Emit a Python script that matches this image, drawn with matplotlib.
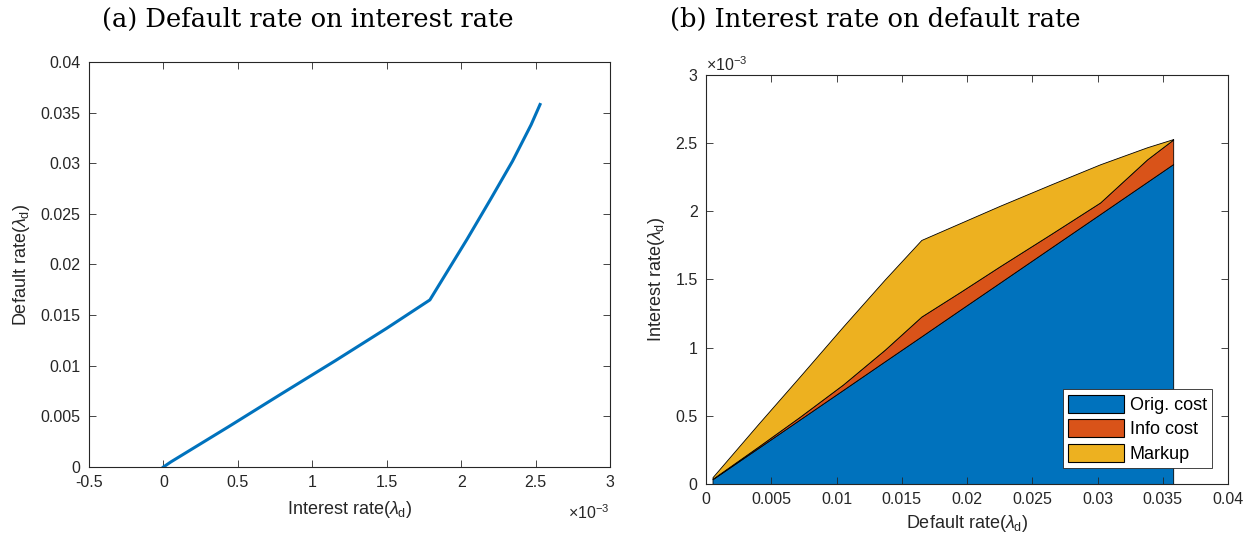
import matplotlib
matplotlib.use("Agg")
import matplotlib.pyplot as plt
from matplotlib.patches import Patch

# ---------------- data ----------------
default_rate = [0.0005, 0.004, 0.0072, 0.0105, 0.0137, 0.0165, 0.0195,
                0.0225, 0.0265, 0.0302, 0.0338, 0.0358]
orig_cost = [0.035e-3, 0.264e-3, 0.474e-3, 0.690e-3, 0.900e-3, 1.083e-3,
             1.280e-3, 1.476e-3, 1.738e-3, 1.980e-3, 2.216e-3, 2.347e-3]
info_cost = [0.003e-3, 0.010e-3, 0.020e-3, 0.040e-3, 0.085e-3, 0.145e-3,
             0.130e-3, 0.120e-3, 0.100e-3, 0.085e-3, 0.165e-3, 0.180e-3]
markup = [0.012e-3, 0.166e-3, 0.296e-3, 0.425e-3, 0.515e-3, 0.562e-3,
          0.505e-3, 0.444e-3, 0.362e-3, 0.280e-3, 0.089e-3, 0.003e-3]
interest_rate = [o + i + m for o, i, m in zip(orig_cost, info_cost, markup)]

# left panel curve (starts at the origin)
left_interest = [0.0] + interest_rate
left_default = [0.0] + default_rate

left_xticks = [-0.5e-3, 0, 0.5e-3, 1e-3, 1.5e-3, 2e-3, 2.5e-3, 3e-3]
left_xticklabels = ["-0.5", "0", "0.5", "1", "1.5", "2", "2.5", "3"]
left_yticks = [0, 0.005, 0.01, 0.015, 0.02, 0.025, 0.03, 0.035, 0.04]
left_yticklabels = ["0", "0.005", "0.01", "0.015", "0.02", "0.025", "0.03", "0.035", "0.04"]
right_xticks = [0, 0.005, 0.01, 0.015, 0.02, 0.025, 0.03, 0.035, 0.04]
right_xticklabels = ["0", "0.005", "0.01", "0.015", "0.02", "0.025", "0.03", "0.035", "0.04"]
right_yticks = [0, 0.5e-3, 1e-3, 1.5e-3, 2e-3, 2.5e-3, 3e-3]
right_yticklabels = ["0", "0.5", "1", "1.5", "2", "2.5", "3"]
legend_labels = ["Orig. cost", "Info cost", "Markup"]

colors = ["#0072BD", "#D95319", "#EDB120"]

plt.rcParams['font.family'] = ['Liberation Sans', 'DejaVu Sans']
plt.rcParams['mathtext.fontset'] = 'custom'
plt.rcParams['mathtext.rm'] = 'Liberation Sans'
plt.rcParams['mathtext.it'] = 'Liberation Sans:italic'

fig = plt.figure(figsize=(12.5, 5.38), dpi=100)
ax1 = fig.add_axes([0.0712, 0.132, 0.4168, 0.7528])
ax2 = fig.add_axes([0.5648, 0.1004, 0.4176, 0.7602])

tickcol = "#262626"
for ax in (ax1, ax2):
    ax.tick_params(direction="in", top=True, right=True, length=5,
                   width=0.6, colors=tickcol, labelsize=11.5, pad=6)
    for s in ax.spines.values():
        s.set_linewidth(0.8)
        s.set_color(tickcol)

# ---- left panel ----
ax1.plot(left_interest, left_default, color=colors[0], lw=2.2)
ax1.set_xlim(-0.5e-3, 3e-3)
ax1.set_ylim(0, 0.04)
ax1.set_xticks(left_xticks)
ax1.set_xticklabels(left_xticklabels)
ax1.set_yticks(left_yticks)
ax1.set_yticklabels(left_yticklabels)
ax1.set_xlabel(r"Interest rate($\lambda_{\rm d}$)", fontsize=13, color=tickcol, labelpad=6)
ax1.set_ylabel(r"Default rate($\lambda_{\rm d}$)", fontsize=13, color=tickcol, labelpad=6)
ax1.text(1.0, -0.09, r"$\times10^{-3}$", transform=ax1.transAxes,
         ha="right", va="top", fontsize=11.5, color=tickcol)

# ---- right panel ----
ax2.stackplot(default_rate, orig_cost, info_cost, markup, colors=colors,
              edgecolor="black", linewidth=0.6)
ax2.set_xlim(0, 0.04)
ax2.set_ylim(0, 3e-3)
ax2.set_xticks(right_xticks)
ax2.set_xticklabels(right_xticklabels)
ax2.set_yticks(right_yticks)
ax2.set_yticklabels(right_yticklabels)
ax2.set_xlabel(r"Default rate($\lambda_{\rm d}$)", fontsize=13, color=tickcol, labelpad=4)
ax2.set_ylabel(r"Interest rate($\lambda_{\rm d}$)", fontsize=13, color=tickcol, labelpad=6)
ax2.text(0.0, 1.003, r"$\times10^{-3}$", transform=ax2.transAxes,
         ha="left", va="bottom", fontsize=11.5, color=tickcol)
handles = [Patch(facecolor=c, edgecolor="black", linewidth=0.8) for c in colors]
leg = ax2.legend(handles, legend_labels, loc="lower right", fontsize=13,
                 bbox_to_anchor=(0.98, 0.025), fancybox=False, framealpha=1,
                 edgecolor="#262626", handlelength=3.1, handleheight=1.15,
                 handletextpad=0.3, borderpad=0.3, labelspacing=0.3,
                 borderaxespad=0.3)
leg.get_frame().set_linewidth(0.6)

# ---- captions ----
fig.text(308 / 1250, 1 - 19 / 538, "(a) Default rate on interest rate",
         ha="center", va="center", fontsize=18.5, family="DejaVu Serif")
fig.text(875 / 1250, 1 - 19 / 538, "(b) Interest rate on default rate",
         ha="center", va="center", fontsize=18.5, family="DejaVu Serif")

fig.savefig("out.png", dpi=100)
